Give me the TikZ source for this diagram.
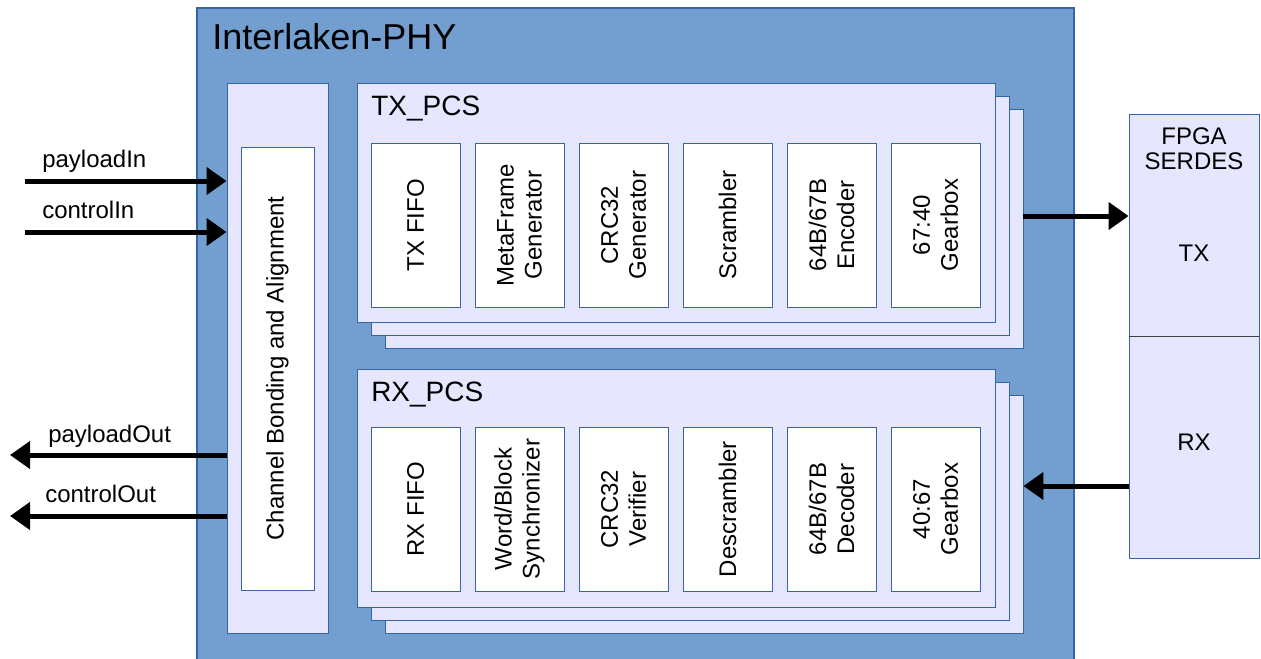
\documentclass[tikz,border=0pt]{standalone}
\usepackage{fontspec}
\setmainfont{Liberation Sans}
\usetikzlibrary{arrows.meta,positioning}

\definecolor{phyblue}{HTML}{729FCF}
\definecolor{lav}{HTML}{E6E6FF}
\definecolor{edgeblue}{HTML}{3465A4}

\begin{document}
\begin{tikzpicture}[x=0.75pt, y=-0.75pt, font=\fontsize{18}{21}\selectfont,
    layer/.style={draw=edgeblue, fill=lav, line width=0.6pt, inner sep=0pt},
    blk/.style={draw=edgeblue, fill=white, line width=0.6pt, inner sep=0pt,
      align=center, rotate=90, minimum width=123pt, minimum height=66.75pt},
    lbl/.style={anchor=base west, inner sep=0pt},
    bigarrow/.style={line width=3.75pt, -{Triangle[length=15pt,width=20pt]}}]

	\useasboundingbox (0,0) rectangle (1261,658);

	% PHY frame
	\node[draw=edgeblue, fill=phyblue, line width=0.8pt, inner sep=0pt,
	  minimum width=657.75pt, minimum height=490.5pt] (phy) at (635.5,335) {};
	\node[lbl, font=\fontsize{27}{30}\selectfont] (phytitle) at (212,49) {Interlaken-PHY};

	% channel bonding
	\node[layer, minimum width=75.75pt, minimum height=412.5pt] (cbaout) at (277.5,358) {};
	\node[blk, minimum width=332.25pt, minimum height=54.75pt] (cba) at (277.5,368.5)
	  {Channel Bonding and Alignment};

	% TX stack
	\node[layer, minimum width=478.5pt, minimum height=179.25pt] (txl3) at (704,228.5) {};
	\node[layer, minimum width=478.5pt, minimum height=179.25pt] (txl2) at (690,215.5) {};
	\node[layer, minimum width=478.5pt, minimum height=179.25pt] (txpcs) at (676,202.5) {};
	\node[lbl, font=\fontsize{21}{24}\selectfont] (txlbl) at (371,115) {TX\_PCS};
	\foreach \i/\txt in {0/{TX FIFO}, 1/{MetaFrame\\Generator}, 2/{CRC32\\Generator},
	    3/{Scrambler}, 4/{64B/67B\\Encoder}, 5/{67:40\\Gearbox}}
	  \node[blk] (tx\i) at (415.5+104*\i,225) {\txt};

	% RX stack
	\node[layer, minimum width=478.5pt, minimum height=178.5pt] (rxl3) at (704,514) {};
	\node[layer, minimum width=478.5pt, minimum height=178.5pt] (rxl2) at (690,501) {};
	\node[layer, minimum width=478.5pt, minimum height=178.5pt] (rxpcs) at (676,488) {};
	\node[lbl, font=\fontsize{21}{24}\selectfont] (rxlbl) at (371,401) {RX\_PCS};
	\foreach \i/\txt in {0/{RX FIFO}, 1/{Word/Block\\Synchronizer}, 2/{CRC32\\Verifier},
	    3/{Descrambler}, 4/{64B/67B\\Decoder}, 5/{40:67\\Gearbox}}
	  \node[blk] (rx\i) at (415.5+104*\i,509) {\txt};

	% serdes
	\node[layer, minimum width=97.5pt, minimum height=166.5pt] (serdestx) at (1194,225) {};
	\node[layer, minimum width=97.5pt, minimum height=166.5pt] (serdesrx) at (1194,447) {};
	\draw[black!75, line width=0.6pt] (serdestx.south west) -- (serdestx.south east);
	\node[align=center, anchor=north, inner sep=0pt, font=\fontsize{18}{19}\selectfont]
	  (serdeslbl) at (1194,127) {FPGA\\SERDES};
	\node (serdestxlbl) at (1194,253) {TX};
	\node (serdesrxlbl) at (1194,442) {RX};

	% ports
	\coordinate (pin) at (25,181);
	\coordinate (cin) at (25,232);
	\coordinate (pout) at (10,455);
	\coordinate (cout) at (10,516);
	\coordinate (txlvl) at (0,216);
	\coordinate (rxlvl) at (0,486);

	\draw[bigarrow] (pin) -- (cbaout.west |- pin);
	\draw[bigarrow] (cin) -- (cbaout.west |- cin);
	\draw[bigarrow] (cbaout.west |- pout) -- (pout);
	\draw[bigarrow] (cbaout.west |- cout) -- (cout);
	\draw[bigarrow] (txl3.east |- txlvl) -- (serdestx.west |- txlvl);
	\draw[bigarrow] (serdesrx.west |- rxlvl) -- (rxl3.east |- rxlvl);

	\node[lbl] (pinlbl) at (42,167) {payloadIn};
	\node[lbl] (cinlbl) at (42,218) {controlIn};
	\node[lbl] (poutlbl) at (48,442) {payloadOut};
	\node[lbl] (coutlbl) at (45,502) {controlOut};
\end{tikzpicture}
\end{document}
